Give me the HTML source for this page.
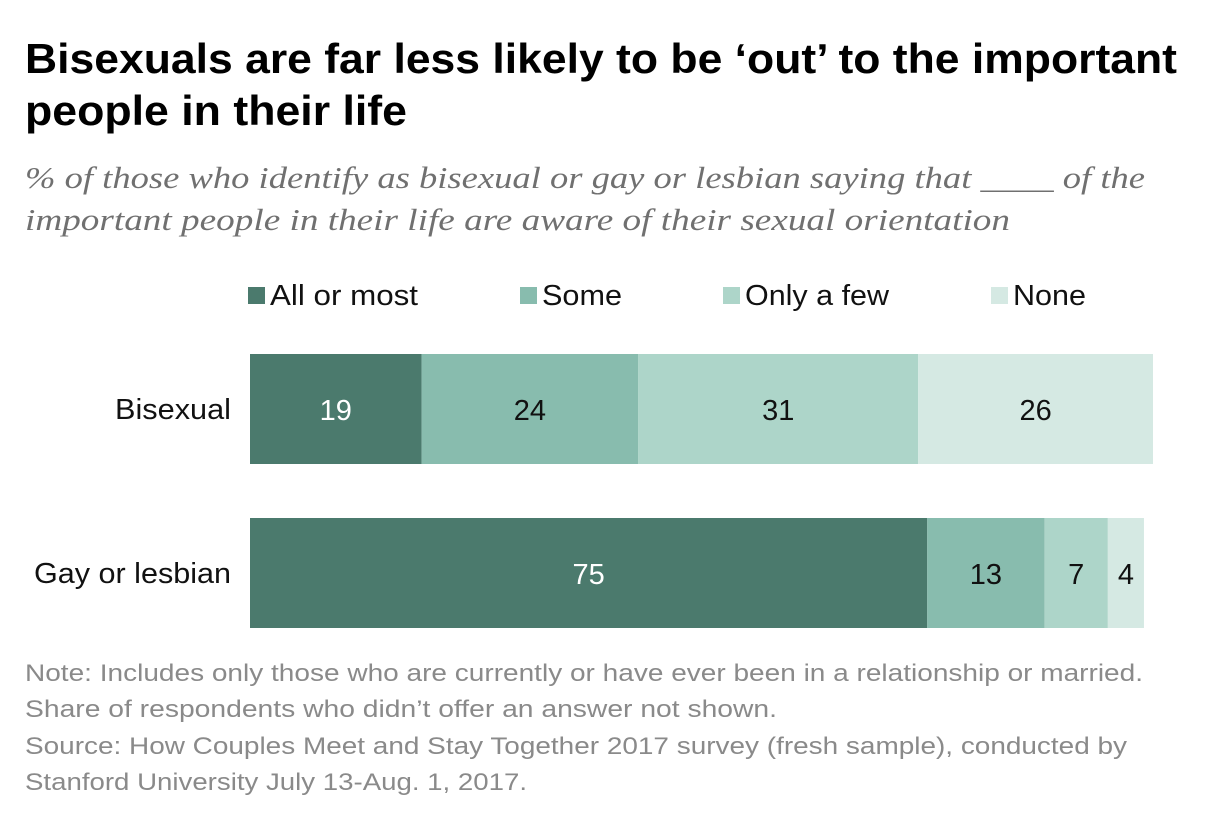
<!DOCTYPE html>
<html><head><meta charset="utf-8"><style>
html,body{margin:0;padding:0;background:#fff;}
svg{display:block;}
</style></head><body>
<svg width="1212" height="814" viewBox="0 0 1212 814">
<g font-family="Liberation Sans, sans-serif" font-weight="bold" font-size="42" fill="#000">
<text x="25" y="73" textLength="1152" lengthAdjust="spacingAndGlyphs">Bisexuals are far less likely to be ‘out’ to the important</text>
<text x="25" y="125" textLength="382" lengthAdjust="spacingAndGlyphs">people in their life</text>
</g>
<g font-family="Liberation Serif, serif" font-style="italic" font-size="31" fill="#707070">
<text x="25" y="188" textLength="1120" lengthAdjust="spacingAndGlyphs">% of those who identify as bisexual or gay or lesbian saying that ____ of the</text>
<text x="25" y="230" textLength="985" lengthAdjust="spacingAndGlyphs">important people in their life are aware of their sexual orientation</text>
</g>
<g id="legend"></g>
<g id="bars"></g>
<g font-family="Liberation Sans, sans-serif" font-size="24" fill="#8a8a8a">
<text x="25" y="681" textLength="1118" lengthAdjust="spacingAndGlyphs">Note: Includes only those who are currently or have ever been in a relationship or married.</text>
<text x="25" y="717" textLength="752" lengthAdjust="spacingAndGlyphs">Share of respondents who didn’t offer an answer not shown.</text>
<text x="25" y="754" textLength="1102" lengthAdjust="spacingAndGlyphs">Source: How Couples Meet and Stay Together 2017 survey (fresh sample), conducted by</text>
<text x="25" y="790" textLength="502" lengthAdjust="spacingAndGlyphs">Stanford University July 13-Aug. 1, 2017.</text>
</g>
</svg>
<script>
const categories = ["Bisexual", "Gay or lesbian"];
const seriesNames = ["All or most", "Some", "Only a few", "None"];
const allOrMost = [19, 75];
const some = [24, 13];
const onlyAFew = [31, 7];
const none = [26, 4];
const series = [allOrMost, some, onlyAFew, none];
const colors = ["#4b7a6d", "#88bcae", "#add5c9", "#d5e9e3"];
const textColors = ["#fff", "#111", "#111", "#111"];
const NS = "http://www.w3.org/2000/svg";
const x0 = 250, pxPerUnit = 9.03;
function xScale(v){ return x0 + v * pxPerUnit; }
const rowTop = [354, 518], barH = 110;
function mk(tag, attrs){ const e = document.createElementNS(NS, tag); for (const k in attrs) e.setAttribute(k, attrs[k]); return e; }
const bars = document.getElementById("bars");
const catWidths = [116, 197];
categories.forEach((c, i) => {
  const y = rowTop[i];
  const lab = mk("text", {x: 231, y: y + barH/2 + 10, "text-anchor": "end", "font-family": "Liberation Sans, sans-serif", "font-size": 29, fill: "#111", textLength: catWidths[i], lengthAdjust: "spacingAndGlyphs"});
  lab.textContent = c;
  
  
  bars.appendChild(lab);
  let cum = 0;
  series.forEach((s, j) => {
    const v = s[i];
    const xa = xScale(cum), xb = xScale(cum + v);
    const r = mk("rect", {x: xa, y: y, width: xb - xa, height: barH, fill: colors[j]});
    
    
    bars.appendChild(r);
    const t = mk("text", {x: (xa + xb)/2, y: y + barH/2 + 11, "text-anchor": "middle", "font-family": "Liberation Sans, sans-serif", "font-size": 29, fill: textColors[j]});
    t.textContent = v;
    
    
    bars.appendChild(t);
    cum += v;
  });
});
const legend = document.getElementById("legend");
const legX = [248, 520, 723, 991];
const legW = [148, 80, 144, 73];
seriesNames.forEach((n, j) => {
  const sq = mk("rect", {x: legX[j], y: 287, width: 17, height: 17, fill: colors[j]});
  
  
  legend.appendChild(sq);
  const t = mk("text", {x: legX[j] + 22, y: 305, "font-family": "Liberation Sans, sans-serif", "font-size": 29, fill: "#111", textLength: legW[j], lengthAdjust: "spacingAndGlyphs"});
  t.textContent = n;
  
  
  legend.appendChild(t);
});
</script>
</body></html>
